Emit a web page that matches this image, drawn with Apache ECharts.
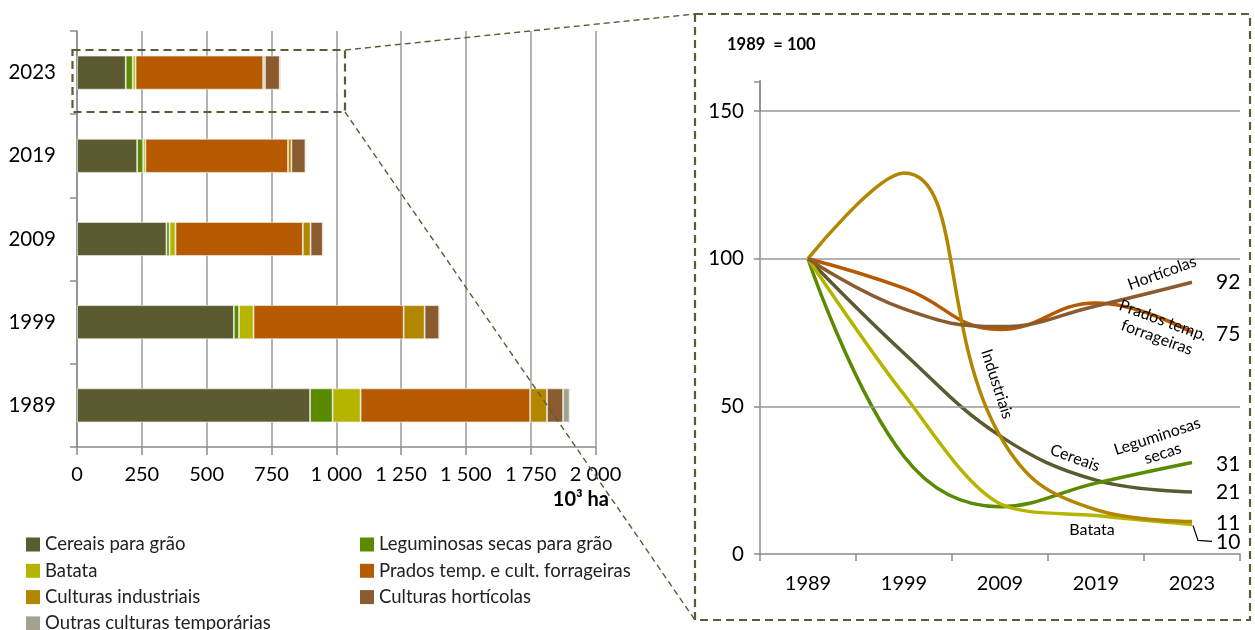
<!DOCTYPE html>
<html><head><meta charset="utf-8">
<script src="https://cdn.jsdelivr.net/npm/echarts@6/dist/echarts.min.js"></script>
<style>html,body{margin:0;padding:0;background:#fff}#c{width:1255px;height:630px}</style>
</head><body><div id="c"></div>
<script>
// ---- data: left chart (10^3 ha) ----
const years = ['1989', '1999', '2009', '2019', '2023'];
const cereais = [899, 605, 345, 232, 188];
const leguminosas = [87, 20, 12, 23, 27];
const batata = [108, 56, 23, 9, 11];
const prados = [654, 579, 491, 550, 492];
const industriais = [65, 81, 30, 13, 7];
const horticolas = [62, 56, 47, 54, 57];
const outras = [25, 3, 3, 3, 4];
const barNames = ['Cereais para grão', 'Leguminosas secas para grão', 'Batata',
  'Prados temp. e cult. forrageiras', 'Culturas industriais', 'Culturas hortícolas',
  'Outras culturas temporárias'];
// ---- data: right chart (index 1989 = 100) ----
const idxCereais = [100, 68, 40, 25, 21];
const idxLeguminosas = [100, 33, 16, 24, 31];
const idxBatata = [100, 54, 17, 13, 10];
const idxPrados = [100, 90, 76, 85, 75];
const idxIndustriais = [100, 129, 40, 15, 11];
const idxHorticolas = [100, 83, 77, 84, 92];

const colors = ['#5b5a30', '#5a8a00', '#b5b500', '#b55a00', '#b38600', '#8a5b2e', '#a3a28f'];
const FONT = 'Lato';
const barData = [cereais, leguminosas, batata, prados, industriais, horticolas, outras];

const chart = echarts.init(document.getElementById('c'), null, {renderer: 'canvas'});

const fmtThousands = v => String(v).replace(/\B(?=(\d{3})+(?!\d))/g, ' ');

const barSeries = barNames.map((n, i) => ({
  name: n, type: 'bar', stack: 'total', xAxisIndex: 0, yAxisIndex: 0,
  data: barData[i], barWidth: 34,
  itemStyle: {color: colors[i], borderColor: 'rgba(235,235,225,0.9)', borderWidth: 0.8},
  emphasis: {disabled: true}
}));

const lineDefs = [
  ['Cereais', idxCereais, colors[0], [0, 0], 0.4],
  ['Leguminosas', idxLeguminosas, colors[1], [0, 2], 0.4],
  ['BatataL', idxBatata, colors[2], [0, 18], 0.3],
  ['Prados', idxPrados, colors[3], [0, 2], 0.45],
  ['Industriais', idxIndustriais, colors[4], [0, 2], 0.45],
  ['Horticolas', idxHorticolas, colors[5], [0, 0], 0.45]
];
const lineSeries = lineDefs.map((d, i) => ({
  name: d[0], type: 'line', xAxisIndex: 1, yAxisIndex: 1, data: d[1],
  smooth: d[4], symbol: 'none', lineStyle: {color: d[2], width: 3.5}, itemStyle: {color: d[2]},
  z: 3 + i,
  endLabel: {show: true, formatter: p => String(p.value), distance: 24, offset: d[3],
    fontFamily: FONT, fontSize: 21, color: '#000'},
  emphasis: {disabled: true},
  markLine: i === 0 ? {silent: true, symbol: 'none', animation: false,
    label: {show: false}, lineStyle: {color: '#999', width: 1.5, type: 'solid'},
    data: [{yAxis: 50}, {yAxis: 100}, {yAxis: 150}]} : undefined
}));

const legendText = {fontSize: 18.5, color: '#222', fontFamily: FONT, lineHeight: 18};
const legendBase = {orient: 'vertical', top: 535, height: 100, padding: 0, itemWidth: 14, itemHeight: 14,
  itemGap: 7.3, icon: 'rect', textStyle: legendText, itemStyle: {borderWidth: 0}, selectedMode: false};
const option = {
  animation: false,
  textStyle: {fontFamily: FONT},
  grid: [
    {left: 77, right: 659.5, top: 31, bottom: 183},
    {left: 760, right: 15, top: 81.5, bottom: 76}
  ],
  xAxis: [
    {type: 'value', gridIndex: 0, min: 0, max: 2000, interval: 250,
      axisLine: {show: true, lineStyle: {color: '#8c8c8c', width: 1.5}},
      axisTick: {show: true, length: 8, lineStyle: {color: '#8c8c8c', width: 1.5}},
      axisLabel: {fontSize: 20, color: '#000', margin: 18, formatter: v => fmtThousands(v)},
      splitLine: {show: true, lineStyle: {color: '#9a9a9a', width: 1.5}}},
    {type: 'category', gridIndex: 1, data: years, boundaryGap: true,
      axisLine: {show: true, lineStyle: {color: '#8c8c8c', width: 1.5}},
      axisTick: {show: true, length: 7, lineStyle: {color: '#8c8c8c', width: 1.5}},
      axisLabel: {fontSize: 20, color: '#000', margin: 20},
      splitLine: {show: false}}
  ],
  yAxis: [
    {type: 'category', gridIndex: 0, data: years,
      axisLine: {show: true, lineStyle: {color: '#8c8c8c', width: 1.5}},
      axisTick: {show: true, length: 7, lineStyle: {color: '#8c8c8c', width: 1.5}},
      axisLabel: {fontSize: 20.5, color: '#000', margin: 21}},
    {type: 'value', gridIndex: 1, min: 0, max: 160, interval: 50,
      axisLine: {show: true, lineStyle: {color: '#8c8c8c', width: 1.5}},
      axisTick: {show: true, length: 6, lineStyle: {color: '#8c8c8c', width: 1.5}},
      axisLabel: {fontSize: 20.5, color: '#000', margin: 16,
        formatter: v => (v % 50 === 0 ? String(v) : '')},
      splitLine: {show: false}}
  ],
  legend: [
    Object.assign({}, legendBase, {left: 26, data: [barNames[0], barNames[2], barNames[4], barNames[6]]}),
    Object.assign({}, legendBase, {left: 360, data: [barNames[1], barNames[3], barNames[5]]})
  ],
  series: barSeries.concat(lineSeries)
};
chart.setOption(option);

// annotations
const dash = '#5b5b36';
const p10 = chart.convertToPixel({xAxisIndex: 1, yAxisIndex: 1}, [years[4], idxBatata[4]]);
const txt = (x, y, t, rotDeg, size, weight, align) => ({
  type: 'text', x: x, y: y, rotation: (rotDeg || 0) * Math.PI / 180, z: 50,
  style: {text: t, fill: '#000', font: (weight || 'normal') + ' ' + (size || 14) + 'px ' + FONT,
    textAlign: align || 'center', textVerticalAlign: 'middle', lineHeight: 18}
});
chart.setOption({
  graphic: [
    {type: 'rect', shape: {x: 72.5, y: 50, width: 272.5, height: 62}, z: 40,
      style: {fill: 'none', stroke: dash, lineWidth: 2.2, lineDash: [8, 5]}},
    {type: 'rect', shape: {x: 695, y: 14, width: 555, height: 606}, z: 40,
      style: {fill: 'none', stroke: dash, lineWidth: 2.2, lineDash: [8, 5]}},
    {type: 'line', shape: {x1: 345, y1: 50, x2: 695, y2: 14}, z: 40,
      style: {stroke: dash, lineWidth: 1.4, lineDash: [6, 4]}},
    {type: 'line', shape: {x1: 345, y1: 112, x2: 695, y2: 620}, z: 40,
      style: {stroke: dash, lineWidth: 1.4, lineDash: [6, 4]}},
    {type: 'line', shape: {x1: 760, y1: 80, x2: 760, y2: 112}, z: 40,
      style: {stroke: '#8c8c8c', lineWidth: 1.5}},
    {type: 'polyline', shape: {points: [[p10[0] + 1, p10[1] + 1], [p10[0] + 6, p10[1] + 16], [p10[0] + 20, p10[1] + 17]]},
      z: 40, style: {fill: 'none', stroke: '#000', lineWidth: 1.2}},
    txt(727, 45, '1989  = 100', 0, 16.5, 'bold', 'left'),
    txt(609, 500, '10³ ha', 0, 20, 'bold', 'right'),
    txt(1162, 273, 'Hortícolas', 20, 16),
    txt(1160, 329, 'Prados temp.\nforrageiras', -20, 16),
    txt(997, 384, 'Industriais', -72, 16),
    txt(1075, 458, 'Cereais', -20, 16),
    txt(1160, 445, 'Leguminosas\nsecas', 18, 16),
    txt(1092, 530, 'Batata', 0, 16)
  ]
});
</script></body></html>
